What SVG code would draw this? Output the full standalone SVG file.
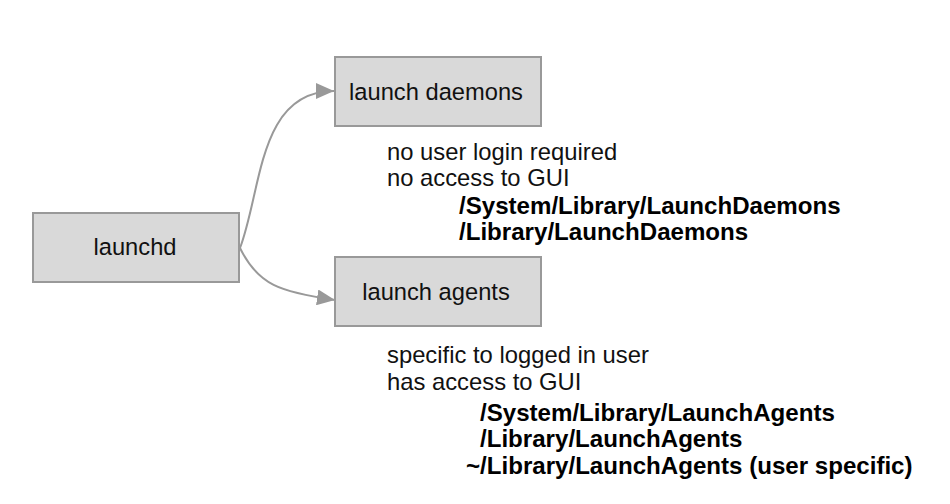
<svg xmlns="http://www.w3.org/2000/svg" width="950" height="504" viewBox="0 0 950 504">
<style>
.box{fill:#d9d9d9;stroke:#999999;stroke-width:2}
.lbl{font-family:"Liberation Sans",Arial,Helvetica,sans-serif;font-size:23.7px;fill:#111}
.txt{font-family:"Liberation Sans",Arial,Helvetica,sans-serif;font-size:23.8px;fill:#111}
.bold{font-family:"Liberation Sans",Arial,Helvetica,sans-serif;font-size:24.1px;font-weight:bold;fill:#000}
.edge{fill:none;stroke:#999999;stroke-width:2}
</style>
<defs>
<marker id="arr" markerWidth="18" markerHeight="16" refX="18" refY="8" orient="auto" markerUnits="userSpaceOnUse">
<path d="M0,0 L18,8 L0,16 Z" fill="#999999"/>
</marker>
</defs>
<rect width="950" height="504" fill="#ffffff"/>
<g id="connectors">
<path class="edge" d="M240,248 C262,190 258,91 334,91" marker-end="url(#arr)"/>
<path class="edge" d="M240,248 C258,285 280,292 335,300" marker-end="url(#arr)"/>
</g>
<g id="launchd">
<rect class="box" x="33" y="213" width="206" height="69"/>
<text class="lbl" x="135" y="255" text-anchor="middle">launchd</text>
</g>
<g id="launch-daemons">
<rect class="box" x="335" y="57" width="206" height="69"/>
<text class="lbl" x="436" y="100" text-anchor="middle">launch daemons</text>
</g>
<g id="launch-agents">
<rect class="box" x="335" y="257" width="206" height="69"/>
<text class="lbl" x="436" y="300" text-anchor="middle">launch agents</text>
</g>
<g id="daemons-notes">
<text class="txt" x="387" y="160">no user login required</text>
<text class="txt" x="387" y="186">no access to GUI</text>
<text class="bold" x="459" y="214">/System/Library/LaunchDaemons</text>
<text class="bold" x="459" y="240">/Library/LaunchDaemons</text>
</g>
<g id="agents-notes">
<text class="txt" x="387" y="363">specific to logged in user</text>
<text class="txt" x="387" y="390">has access to GUI</text>
<text class="bold" x="480" y="421">/System/Library/LaunchAgents</text>
<text class="bold" x="480" y="447">/Library/LaunchAgents</text>
<text class="bold" x="466" y="474">~/Library/LaunchAgents (user specific)</text>
</g>
</svg>
